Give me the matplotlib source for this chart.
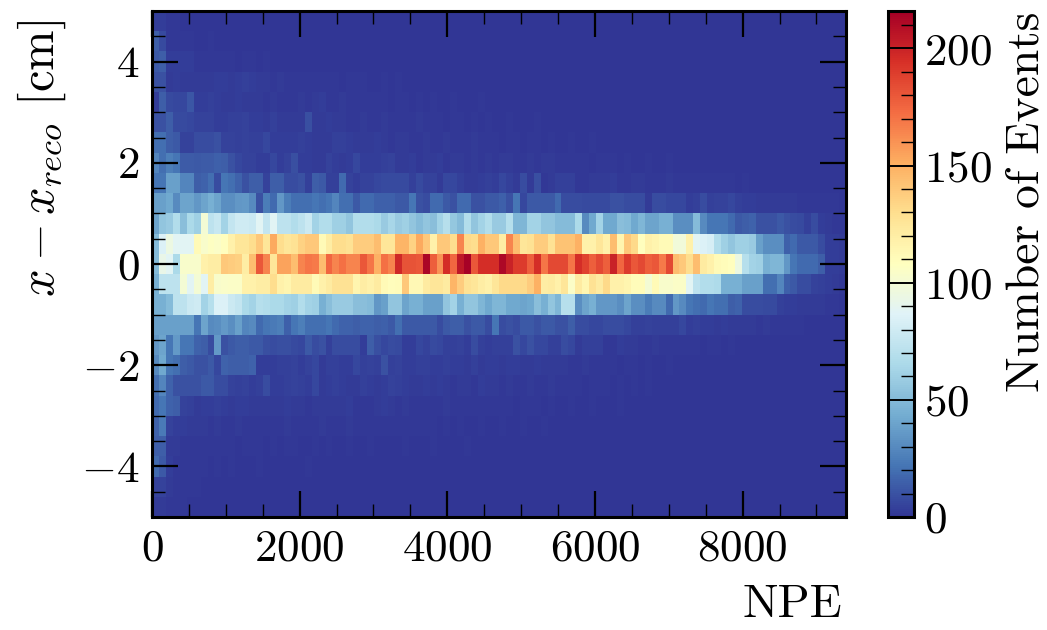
import numpy as np
import matplotlib
matplotlib.use('Agg')
import matplotlib.pyplot as plt
from matplotlib.ticker import MultipleLocator

# Binning
npe_edges_max = 9400
n_npe_bins = 100
y_edges_min, y_edges_max = -5, 5
n_y_bins = 25

# Counts per NPE bin, one list per y bin (bottom to top)
row_m48 = [2,2,1,1,1,0,0,0,0,0,  0,0,0,0,0,0,0,0,0,0,  0,0,0,0,0,0,0,0,0,0,  0,0,0,0,0,0,0,0,0,0,  0,0,0,0,0,0,0,0,0,0,  0,0,0,0,0,0,0,0,0,0,  0,0,0,0,0,0,0,0,0,0,  0,0,0,0,0,0,0,0,0,0,  0,0,0,0,0,0,0,0,0,0,  0,0,0,0,0,0,0,0,0,0]
row_m44 = [5,5,2,1,1,1,1,0,0,0,  0,0,0,0,0,0,0,0,0,0,  0,0,0,0,0,0,0,0,0,0,  0,0,0,0,0,0,0,0,0,0,  0,0,0,0,0,0,0,0,0,0,  0,0,0,0,0,0,0,0,0,0,  0,0,0,0,0,0,0,0,0,0,  0,0,0,0,0,0,0,0,0,0,  0,0,0,0,0,0,0,0,0,0,  0,0,0,0,0,0,0,0,0,0]
row_m40 = [18,12,3,1,1,1,1,1,0,1,  0,1,0,0,0,1,0,0,0,0,  0,0,1,0,0,0,0,0,0,0,  0,0,0,0,0,0,0,0,0,0,  0,0,0,0,0,0,0,0,0,0,  0,0,0,0,0,0,0,0,0,0,  0,0,0,0,0,0,0,0,0,0,  0,0,0,0,0,0,0,0,0,0,  0,0,0,0,0,0,0,0,0,0,  0,0,0,0,0,0,0,0,0,0]
row_m36 = [14,14,2,2,1,1,1,1,1,1,  1,1,0,1,1,1,0,1,0,1,  1,0,0,1,0,1,0,0,1,0,  0,1,0,0,0,0,1,0,0,0,  1,0,0,0,0,1,0,0,0,0,  0,0,0,0,0,0,0,0,0,0,  0,0,0,0,0,0,0,0,0,0,  0,0,0,0,0,0,0,0,0,0,  0,0,0,0,0,0,0,0,0,0,  0,0,0,0,0,0,0,0,0,0]
row_m32 = [16,24,5,3,3,2,2,2,1,2,  1,1,2,1,1,1,1,1,1,2,  1,1,1,1,2,1,1,1,2,1,  1,1,1,1,1,1,1,1,1,1,  1,0,1,0,1,0,0,1,0,0,  1,0,0,1,0,0,1,0,0,0,  0,0,0,0,0,0,0,0,0,0,  0,0,0,0,0,0,0,0,0,0,  0,0,0,0,0,0,0,0,0,0,  0,0,0,0,0,0,0,0,0,0]
row_m28 = [18,22,16,14,5,4,2,3,3,4,  3,2,3,3,2,2,2,2,2,3,  2,2,1,2,2,2,2,2,3,1,  1,1,2,3,2,1,2,1,1,1,  1,1,2,1,1,1,1,1,1,1,  1,1,0,1,1,1,0,1,0,0,  1,0,0,1,0,0,0,1,0,0,  0,0,0,0,0,0,0,0,0,0,  0,0,0,0,0,0,0,0,0,0,  0,0,0,0,0,0,0,0,0,0]
row_m24 = [20,28,16,10,10,10,10,12,12,8,  8,5,4,5,3,4,8,3,3,4,  5,4,3,6,2,3,4,3,2,2,  4,3,2,3,5,4,3,2,2,3,  2,3,2,1,2,2,1,3,2,2,  1,2,1,1,2,1,1,2,1,1,  1,1,0,1,1,1,0,1,0,1,  0,1,0,0,0,0,0,0,0,0,  0,0,0,0,0,0,0,0,0,0,  0,0,0,0,0,0,0,0,0,0]
row_m20 = [30,42,22,20,14,12,10,10,12,6,  16,14,14,14,16,3,3,3,4,4,  5,3,5,6,2,4,4,3,3,6,  4,5,4,10,4,5,3,3,4,4,  3,3,4,3,3,2,4,2,3,3,  2,3,3,2,2,3,2,2,2,2,  1,1,2,1,1,1,1,0,1,1,  0,1,0,0,1,0,0,0,0,0,  0,0,0,0,0,0,0,0,0,0,  0,0,0,0,0,0,0,0,0,0]
row_m16 = [35,40,22,36,22,22,16,14,8,36,  10,12,14,14,12,12,9,8,9,9,  7,6,12,8,10,4,8,8,8,8,  3,14,9,6,8,7,3,3,6,5,  7,6,4,4,5,3,8,4,3,4,  4,4,10,6,10,6,6,4,4,8,  6,2,4,4,4,1,1,3,2,2,  1,1,2,1,1,1,1,1,1,0,  1,1,0,1,0,0,0,0,0,0,  0,0,0,0,0,0,0,0,0,0]
row_m12 = [38,38,38,38,38,38,22,40,30,32,  36,32,38,28,30,18,22,24,26,15,  22,26,20,20,20,22,18,16,16,14,  16,16,14,15,12,20,12,12,12,12,  12,8,12,14,14,10,12,12,8,22,  8,10,8,12,12,10,12,12,10,10,  14,8,8,6,6,8,8,8,6,4,  4,5,4,4,4,4,6,3,4,3,  3,2,3,2,2,2,2,1,2,1,  1,1,1,1,0,0,0,0,0,0]
row_m08 = [45,45,50,72,72,78,80,62,70,85,  85,78,75,65,62,70,68,65,65,62,  60,68,62,60,45,52,58,58,58,52,  52,50,35,38,55,55,40,45,45,38,  38,38,55,62,45,55,55,48,42,48,  48,42,42,40,42,52,45,55,48,70,  70,32,40,45,35,35,35,32,40,32,  32,25,30,30,18,35,30,22,20,18,  22,20,20,14,16,8,8,8,7,7,  4,3,3,2,2,2,2,1,1,0]
row_m04 = [45,72,72,72,100,88,100,88,120,103,  104,105,105,118,118,120,120,130,118,115,  122,122,122,112,118,122,128,128,128,115,  120,118,122,112,109,110,140,113,113,122,  125,125,122,148,138,128,125,120,118,125,  132,132,132,132,138,150,120,122,118,125,  105,122,114,128,122,132,118,118,115,110,  110,100,112,103,103,105,105,88,72,68,  68,66,45,45,45,38,38,38,20,20,  28,15,12,8,8,5,4,3,2,1]
row_000 = [50,92,88,65,103,103,103,118,120,120,  140,138,136,120,145,180,165,125,155,155,  145,165,170,168,145,175,165,172,165,165,  180,170,150,172,165,198,182,182,180,213,  178,160,195,175,205,215,180,195,195,195,  212,200,190,190,178,195,170,185,185,185,  170,195,188,178,185,178,200,175,190,180,  185,178,180,168,185,145,140,130,145,122,  118,112,110,108,95,70,62,60,45,48,  48,35,22,18,18,18,14,3,3,2]
row_p04 = [50,85,95,88,88,88,112,103,107,105,  108,118,125,125,130,140,125,152,130,125,  128,135,140,140,112,120,130,130,128,138,  138,138,145,125,125,148,148,135,152,140,  118,140,140,130,165,132,130,150,140,140,  120,165,145,125,128,138,138,128,142,142,  142,150,118,118,125,118,145,115,140,132,  108,118,115,112,112,98,98,118,88,85,  82,68,60,55,60,60,58,38,32,32,  32,15,18,12,12,12,8,3,3,2]
row_p08 = [40,55,58,68,52,65,60,100,72,76,  62,75,80,80,78,88,75,88,72,72,  68,72,78,62,68,68,60,60,55,68,  68,68,65,58,64,58,60,55,50,55,  52,62,70,56,50,68,55,62,68,58,  58,70,48,48,62,62,55,55,50,50,  50,65,30,42,62,42,42,52,50,42,  48,40,40,45,45,32,32,32,50,30,  22,22,22,18,12,14,16,10,10,10,  12,10,8,7,4,8,3,2,1,1]
row_p12 = [38,38,42,30,40,40,35,40,45,40,  32,32,35,36,30,10,25,18,35,25,  20,20,20,22,20,22,28,20,20,12,  18,18,15,15,15,12,12,22,10,8,  18,18,12,10,18,18,10,10,12,12,  15,10,22,6,12,12,12,12,18,8,  8,8,7,7,7,7,10,10,8,8,  8,2,8,8,6,6,6,3,4,8,  4,5,5,6,4,3,3,2,2,2,  2,2,2,1,1,1,1,1,1,0]
row_p16 = [22,22,38,38,28,28,14,16,20,8,  22,20,16,10,14,14,5,14,14,8,  8,10,4,14,12,4,4,18,5,3,  5,5,6,7,7,7,7,4,7,5,  5,2,6,6,4,2,2,3,4,3,  6,4,2,8,2,9,1,2,4,4,  4,1,1,2,2,2,3,1,1,2,  2,1,1,1,2,1,1,1,1,1,  1,1,1,1,0,1,0,0,0,0,  0,0,0,0,0,0,0,0,0,0]
row_p20 = [28,20,26,22,13,13,12,13,13,15,  14,10,6,5,5,3,3,6,3,5,  9,3,3,2,2,5,3,2,3,6,  3,3,3,4,5,2,2,3,1,2,  2,3,1,2,2,1,2,1,2,1,  2,2,1,1,2,1,2,2,1,1,  1,1,1,0,1,1,1,0,1,0,  0,1,0,0,1,0,0,0,0,0,  0,0,0,0,0,0,0,0,0,0,  0,0,0,0,0,0,0,0,0,0]
row_p24 = [20,20,14,12,5,5,8,8,8,10,  5,5,4,5,4,4,6,3,3,3,  3,4,3,2,2,2,4,4,3,2,  2,2,3,2,1,2,2,1,1,2,  1,1,2,1,1,1,2,1,1,1,  0,1,1,0,1,1,0,1,0,0,  1,0,0,1,0,0,0,0,0,0,  0,0,0,0,0,0,0,0,0,0,  0,0,0,0,0,0,0,0,0,0,  0,0,0,0,0,0,0,0,0,0]
row_p28 = [10,10,14,7,7,6,5,5,5,3,  3,4,4,5,3,3,2,4,2,2,  2,2,9,2,2,3,2,2,1,1,  2,1,1,2,1,1,1,1,2,1,  1,1,0,1,1,0,1,0,1,0,  0,1,0,0,0,1,0,0,0,0,  0,0,0,0,0,0,0,0,0,0,  0,0,0,0,0,0,0,0,0,0,  0,0,0,0,0,0,0,0,0,0,  0,0,0,0,0,0,0,0,0,0]
row_p32 = [3,14,7,6,6,11,3,3,4,3,  2,2,3,2,2,2,1,2,1,1,  1,2,1,2,3,1,1,2,1,1,  1,1,1,1,0,1,1,0,1,0,  1,0,0,1,0,0,0,1,0,0,  0,0,0,0,0,0,0,0,0,0,  0,0,0,0,0,0,0,0,0,0,  0,0,0,0,0,0,0,0,0,0,  0,0,0,0,0,0,0,0,0,0,  0,0,0,0,0,0,0,0,0,0]
row_p36 = [10,10,2,3,2,2,2,2,2,3,  3,2,3,4,3,2,2,1,2,1,  1,1,1,1,1,1,1,0,1,1,  1,0,0,1,0,1,0,0,0,0,  0,0,0,0,0,0,0,0,0,0,  0,0,0,0,0,0,0,0,0,0,  0,0,0,0,0,0,0,0,0,0,  0,0,0,0,0,0,0,0,0,0,  0,0,0,0,0,0,0,0,0,0,  0,0,0,0,0,0,0,0,0,0]
row_p40 = [12,14,3,3,3,3,1,1,1,1,  1,1,0,1,1,0,1,0,0,0,  0,0,0,0,0,0,0,0,0,0,  0,0,0,0,0,0,0,0,0,0,  0,0,0,0,0,0,0,0,0,0,  0,0,0,0,0,0,0,0,0,0,  0,0,0,0,0,0,0,0,0,0,  0,0,0,0,0,0,0,0,0,0,  0,0,0,0,0,0,0,0,0,0,  0,0,0,0,0,0,0,0,0,0]
row_p44 = [14,7,1,1,1,1,0,0,1,0,  0,0,0,0,0,0,0,0,0,0,  0,0,0,0,0,0,0,0,0,0,  0,0,0,0,0,0,0,0,0,0,  0,0,0,0,0,0,0,0,0,0,  0,0,0,0,0,0,0,0,0,0,  0,0,0,0,0,0,0,0,0,0,  0,0,0,0,0,0,0,0,0,0,  0,0,0,0,0,0,0,0,0,0,  0,0,0,0,0,0,0,0,0,0]
row_p48 = [3,3,1,1,0,0,0,0,0,0,  0,0,0,0,0,0,0,0,0,0,  0,0,0,0,0,0,0,0,0,0,  0,0,0,0,0,0,0,0,0,0,  0,0,0,0,0,0,0,0,0,0,  0,0,0,0,0,0,0,0,0,0,  0,0,0,0,0,0,0,0,0,0,  0,0,0,0,0,0,0,0,0,0,  0,0,0,0,0,0,0,0,0,0,  0,0,0,0,0,0,0,0,0,0]

rows = [row_m48, row_m44, row_m40, row_m36, row_m32, row_m28, row_m24, row_m20, row_m16,
        row_m12, row_m08, row_m04, row_000, row_p04, row_p08, row_p12, row_p16, row_p20,
        row_p24, row_p28, row_p32, row_p36, row_p40, row_p44, row_p48]
counts = np.array(rows, dtype=float)

plt.rcParams['font.family'] = ['cmr10', 'DejaVu Sans']
plt.rcParams['mathtext.fontset'] = 'cm'
plt.rcParams['axes.formatter.use_mathtext'] = True
plt.rcParams['axes.unicode_minus'] = True

fig = plt.figure(figsize=(10.47, 6.3), dpi=100)
W, H = 1047, 630
ax = fig.add_axes([152/W, 1-517/H, (846-152)/W, (517-11)/H])
cax = fig.add_axes([888/W, 1-517/H, (914-888)/W, (517-11)/H])

xedges = np.linspace(0, npe_edges_max, n_npe_bins+1)
yedges = np.linspace(y_edges_min, y_edges_max, n_y_bins+1)
mesh = ax.pcolormesh(xedges, yedges, counts, cmap='RdYlBu_r', vmin=0, vmax=216, rasterized=True)

ax.set_xlim(0, npe_edges_max)
ax.set_ylim(y_edges_min, y_edges_max)
ax.xaxis.set_major_locator(MultipleLocator(2000))
ax.xaxis.set_minor_locator(MultipleLocator(500))
ax.yaxis.set_major_locator(MultipleLocator(2))
ax.yaxis.set_minor_locator(MultipleLocator(0.5))
ax.tick_params(which='both', direction='in', top=True, right=True, labelsize=32.5)
ax.tick_params(which='major', length=18.5, width=1.6, pad=9)
ax.tick_params(which='minor', length=9.5, width=1.0)
for s in ax.spines.values():
    s.set_linewidth(2.2)

ax.set_xlabel('NPE', fontsize=34, loc='right', labelpad=11)
ax.xaxis.label.set_x((842-152)/694)
ax.set_ylabel(r'$x - x_{reco}$ [cm]', fontsize=35, loc='top')
ax.yaxis.set_label_coords(-0.121, 0.982)

cb = fig.colorbar(mesh, cax=cax)
cb.set_ticks([0, 50, 100, 150, 200])
cb.ax.yaxis.set_minor_locator(MultipleLocator(10))
cb.ax.tick_params(which='both', direction='in', labelsize=32.5, right=True)
cb.ax.tick_params(which='major', length=18.5, width=1.4, pad=7)
cb.ax.tick_params(which='minor', length=9.5, width=1.0)
cb.outline.set_linewidth(2.2)
cb.set_label('Number of Events', fontsize=34.3, loc='top', labelpad=10)

fig.savefig('out.png', dpi=100)
